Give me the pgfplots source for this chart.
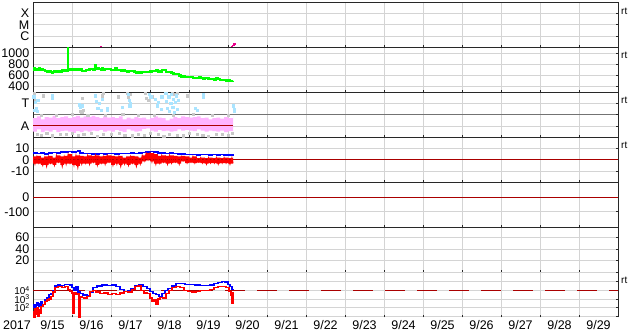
\documentclass[border=0pt]{standalone}
\usepackage{fontspec}
\setmainfont{Liberation Sans}
\usepackage{pgfplots}
\pgfplotsset{compat=1.18}
\usepgfplotslibrary{fillbetween}
\definecolor{dred}{RGB}{170,0,0}
\definecolor{pinkband}{RGB}{255,180,255}
\definecolor{ltblue}{RGB}{170,228,255}
\definecolor{ltgray}{RGB}{200,200,200}
\definecolor{gridc}{RGB}{212,212,212}
\definecolor{bord}{RGB}{40,40,40}
\newcommand{\tenp}[1]{10\raisebox{3.3pt}{\fontsize{7}{7}\selectfont #1}}
\pgfplotsset{
 panel/.style={
  scale only axis, width=585pt, height=45pt, xmin=0, xmax=15,
  anchor=north west,
  axis line style={draw=bord, line width=0.9pt},
  xtick={1,...,14}, xticklabels={},
  xmajorgrids, ymajorgrids,
  grid style={draw=gridc, line width=0.8pt},
  tick align=inside, major tick length=2.5pt,
  tick style={draw=bord, line width=0.8pt},
  xtick pos=left, ytick pos=right, yticklabel pos=left,
  yminorticks=false, xminorticks=false,
  tick label style={font=\fontsize{12.5}{13}\selectfont},
  yticklabel style={anchor=east, inner sep=0pt, xshift=-3.5pt},
 },
}
\begin{document}
\begin{tikzpicture}
% Panel 1: X-ray class
\begin{axis}[panel, at={(33pt,-2.5pt)}, height=44.8pt, ymode=log, ymin=1e-7, ymax=1e-3,
  ytick={1e-6,1e-5,1e-4}, yticklabels={C,M,X}]
\addplot[draw=magenta, line width=1.2pt] coordinates {(1.72,1.12e-7)(1.76,1.12e-7)};
\addplot[draw=magenta, line width=1.5pt, const plot] coordinates {(5.07,1.15e-7)(5.11,1.4e-7)(5.15,1.9e-7)(5.21,1.9e-7)};
\end{axis}
% Panel 2: speed
\begin{axis}[panel, at={(33pt,-47.3pt)}, ymin=300, ymax=1100,
  ytick={400,600,800,1000}, yticklabels={400,600,800,1000}]
\addplot[draw=green, line width=2.2pt, const plot] coordinates {
(0.00,700)(0.03,735)(0.05,710)(0.08,690)(0.10,720)(0.13,700)(0.15,730)(0.18,705)(0.20,715)(0.25,690)(0.28,700)(0.30,680)(0.35,665)(0.38,680)(0.40,670)(0.45,655)
(0.50,650)(0.52,665)(0.55,670)(0.60,660)(0.65,675)(0.70,665)(0.75,690)(0.80,680)(0.85,690)(0.88,680)(0.895,1080)
(0.905,720)(0.95,700)(1.00,705)(1.05,720)(1.08,700)(1.10,710)(1.15,690)(1.20,705)(1.25,685)(1.30,680)(1.35,690)
(1.40,700)(1.45,710)(1.50,720)(1.55,700)(1.58,790)(1.60,720)(1.65,730)(1.70,715)(1.75,705)(1.78,725)(1.80,700)
(1.85,720)(1.90,710)(1.95,715)(2.00,700)(2.05,690)(2.10,730)(2.15,700)(2.20,690)(2.25,680)(2.30,695)
(2.35,680)(2.40,670)(2.45,685)(2.50,675)(2.60,665)(2.65,650)(2.70,660)(2.75,650)(2.80,660)(2.90,655)(3.00,670)(3.05,685)
(3.10,680)(3.15,700)(3.20,670)(3.30,690)(3.40,665)(3.50,660)(3.55,640)(3.60,625)(3.65,620)(3.70,630)
(3.75,600)(3.80,580)(3.90,575)(4.00,565)(4.10,560)(4.20,555)(4.25,570)(4.30,550)(4.35,545)(4.40,555)(4.50,540)
(4.60,530)(4.65,525)(4.70,545)(4.75,532)(4.80,520)(4.90,518)(4.95,510)(5.00,520)(5.05,505)(5.10,495)(5.13,505)};
\end{axis}
% Panel 3: T / A
\begin{axis}[panel, at={(33pt,-92.3pt)}, ymin=0, ymax=4, ytick={1,3}, yticklabels={A,T},
  extra y ticks={2}, extra y tick labels={},
  extra y tick style={major grid style={draw=black!55, line width=0.9pt}}]
\addplot[only marks, mark=square*, mark size=1.1pt, color=ltgray] coordinates {
(0.03,3.7)(0.05,3.3)(0.03,3.9)(0.26,3.7)(1.2,2.3)(1.25,2.2)(1.28,2.4)(1.26,3.5)(1.77,3.7)(1.79,3.9)
(2.18,3.6)(2.41,3.9)(2.45,3.6)(2.5,3.8)(2.87,3.9)(2.9,3.5)(2.95,3.3)(3.05,3.6)(3.56,3.9)(3.62,3.8)
(3.69,3.9)(3.95,3.7)(4.2,2.4)(4.36,3.8)
(0.2,2.0)(0.6,1.95)(1.0,2.05)(1.4,2.0)(1.85,1.95)(2.3,2.05)(2.7,2.0)(3.1,1.95)(3.6,2.0)(4.1,2.05)(4.6,1.95)(5.0,2.0)
(0.1,0.3)(0.2,0.2)(0.35,0.4)(0.5,0.15)(0.7,0.3)(0.85,0.25)(1.0,0.4)(1.15,0.2)(1.3,0.3)(1.5,0.35)
(1.65,0.1)(1.8,0.3)(2.0,0.25)(2.2,0.4)(2.35,0.2)(2.55,0.15)(2.7,0.3)(2.85,0.2)(3.0,0.35)(3.2,0.25)
(3.35,0.1)(3.5,0.3)(3.7,0.2)(3.85,0.15)(4.0,0.35)(4.2,0.3)(4.35,0.2)(4.5,0.1)(4.7,0.25)(4.85,0.3)
(5.0,0.2)(5.1,0.35)};
\addplot[name path=up, draw=none, const plot] coordinates {
(0.0,1.7)(0.1,1.85)(0.2,1.6)(0.3,1.8)(0.4,1.75)(0.5,1.9)(0.6,1.7)(0.7,1.8)(0.8,1.85)(0.9,1.7)
(1.0,1.8)(1.1,1.9)(1.2,1.75)(1.3,1.85)(1.4,1.8)(1.5,1.9)(1.6,1.8)(1.7,1.7)(1.8,1.85)(1.9,1.75)
(2.0,1.8)(2.1,1.7)(2.2,1.85)(2.3,1.6)(2.4,1.75)(2.5,1.65)(2.6,1.8)(2.7,1.7)(2.8,1.75)(2.9,1.6)
(3.0,1.7)(3.1,1.85)(3.2,1.75)(3.3,1.7)(3.4,1.5)(3.5,1.65)(3.6,1.8)(3.7,1.7)(3.8,1.85)(3.9,1.8)
(4.0,1.75)(4.1,1.8)(4.2,1.85)(4.3,1.7)(4.4,1.75)(4.5,1.6)(4.6,1.7)(4.7,1.75)(4.8,1.65)(4.9,1.8)
(5.0,1.7)(5.13,1.9)};
\addplot[name path=lo, draw=none, const plot] coordinates {
(0.0,0.5)(0.1,0.7)(0.2,0.45)(0.3,0.6)(0.4,0.5)(0.5,0.65)(0.6,0.45)(0.7,0.55)(0.8,0.6)(0.9,0.5)
(1.0,0.4)(1.1,0.55)(1.2,0.45)(1.3,0.6)(1.4,0.5)(1.5,0.6)(1.6,0.55)(1.7,0.65)(1.8,0.5)(1.9,0.6)
(2.0,0.5)(2.1,0.65)(2.2,0.55)(2.3,0.45)(2.4,0.7)(2.5,0.6)(2.6,0.5)(2.7,0.55)(2.8,0.75)(2.9,0.8)
(3.0,0.6)(3.1,0.5)(3.2,0.65)(3.3,0.55)(3.4,0.6)(3.5,0.5)(3.6,0.55)(3.7,0.7)(3.8,0.6)(3.9,0.65)
(4.0,0.6)(4.1,0.55)(4.2,0.7)(4.3,0.6)(4.4,0.5)(4.5,0.6)(4.6,0.55)(4.7,0.5)(4.8,0.6)(4.9,0.45)
(5.0,0.55)(5.13,0.5)};
\addplot[fill=pinkband, draw=none] fill between[of=up and lo];
\addplot[only marks, mark=square*, mark size=1.1pt, color=ltblue] coordinates {
(0.02,3.6)(0.05,3.1)(0.08,2.6)(0.1,2.3)(0.12,3.3)(0.04,2.4)(0.49,3.7)(0.5,3.5)(1.18,2.9)(1.22,2.7)
(1.27,2.8)(1.6,3.7)(1.63,3.2)(1.66,2.6)(1.7,3.0)(1.75,2.4)(1.77,3.4)(1.9,2.6)(1.9,2.4)(2.28,2.7)
(2.44,3.8)(2.46,3.3)(2.48,2.8)(2.49,3.0)(2.97,3.8)(3.02,3.6)(3.13,3.4)(3.18,2.8)(3.22,3.1)(3.28,2.5)
(3.3,3.6)(3.4,3.9)(3.42,3.2)(3.45,2.6)(3.48,3.6)(3.5,2.3)(3.53,3.0)(3.55,3.8)(3.58,2.7)(3.6,3.4)
(3.63,2.2)(3.65,3.1)(3.68,3.7)(3.7,2.5)(3.72,3.3)(4.16,2.6)(4.2,2.4)(4.36,3.8)(4.37,3.6)(5.13,2.8)
(5.15,2.5)(5.15,2.3)};
\addplot[draw=dred, line width=1pt] coordinates {(0,1.07)(5.13,1.07)};
\end{axis}
% Panel 4: magnetic field
\begin{axis}[panel, at={(33pt,-137.3pt)}, ymin=-20, ymax=20, ytick={-10,0,10}, yticklabels={-10,0,10}]
\addplot[draw=dred, line width=1pt] coordinates {(0,0)(15,0)};
\addplot[draw=blue, line width=1.4pt, const plot] coordinates {
(0,6)(0.1,5.5)(0.2,6)(0.3,5.3)(0.4,6)(0.5,6.5)(0.6,6.2)(0.7,7)(0.8,6.8)(0.9,7.2)(1.0,7)(1.1,7.5)(1.15,8.3)
(1.2,6.2)(1.3,5.8)(1.4,5.5)(1.5,5.2)(1.6,5)(1.7,5.5)(1.8,5.3)(1.9,5.6)(2.0,5.5)(2.1,5.2)(2.2,5.6)(2.3,5.5)
(2.4,5.8)(2.5,6)(2.6,5.7)(2.7,6)(2.8,6.3)(2.9,7)(3.0,7.2)(3.1,6.8)(3.2,6)(3.3,6.2)(3.4,5.8)(3.5,6)(3.6,5.5)
(3.7,5.2)(3.8,5)(3.9,4.6)(4.0,4.5)(4.1,4.7)(4.2,4.4)(4.3,4.6)(4.4,4.5)(4.5,4.3)(4.6,4.5)(4.7,4.4)(4.8,4.6)
(4.9,4.3)(5.0,4.2)(5.1,4.4)(5.13,4)};
\addplot[name path=bzhi, draw=none, const plot] coordinates {
(0.0,3)(0.1,3.5)(0.2,2)(0.3,3)(0.4,3.5)(0.5,2)(0.6,4)(0.7,3)(0.8,3.5)(0.9,5)
(1.0,3)(1.1,4)(1.2,3.5)(1.3,3)(1.4,4)(1.5,3.5)(1.6,4)(1.7,3)(1.8,3.5)(1.9,4)
(2.0,3.5)(2.1,3)(2.2,3.5)(2.3,2)(2.4,3)(2.5,3.5)(2.6,3)(2.7,2)(2.8,4)(2.9,6)
(3.0,6)(3.1,5)(3.2,3.5)(3.3,4)(3.4,3.5)(3.5,4)(3.6,3.5)(3.7,3)(3.8,3.5)(3.9,3)
(4.0,2)(4.1,3)(4.2,1.5)(4.3,2)(4.4,1.5)(4.5,2)(4.6,1.5)(4.7,2)(4.8,1.5)(4.9,2)(5.0,1.5)(5.13,2)};
\addplot[name path=bzlo, draw=none, const plot] coordinates {
(0.0,-3.5)(0.1,-3.5)(0.2,-4.5)(0.3,-4.5)(0.4,-3.5)(0.5,-4.5)(0.6,-2.5)(0.7,-4.5)(0.8,-3.5)(0.9,-3.5)
(1.0,-4.5)(1.1,-5.5)(1.2,-3.5)(1.3,-3.5)(1.4,-3.5)(1.5,-2.5)(1.6,-4.5)(1.7,-3.5)(1.8,-3.5)(1.9,-2.5)
(2.0,-4.5)(2.1,-3.5)(2.2,-4.5)(2.3,-3.5)(2.4,-4.5)(2.5,-3.5)(2.6,-4.5)(2.7,-3.5)(2.8,-1.5)(2.9,-0.5)
(3.0,-1.5)(3.1,-3.5)(3.2,-3.5)(3.3,-2.5)(3.4,-3.5)(3.5,-3)(3.6,-2.5)(3.7,-3.5)(3.8,-1.5)(3.9,-3)
(4.0,-2.5)(4.1,-3)(4.2,-2.5)(4.3,-3)(4.4,-3.5)(4.5,-3)(4.6,-3)(4.7,-3.5)(4.8,-3)(4.9,-3)(5.0,-3.5)(5.13,-3)};
\addplot[fill=red, draw=none] fill between[of=bzhi and bzlo];
\addplot[draw=red, line width=0.9pt] coordinates {
(0.00,2)(0.05,-4)(0.10,3)(0.15,-3)(0.20,1)(0.25,-5)(0.30,2)(0.35,-6)(0.40,3)(0.45,-3)
(0.50,1)(0.55,-5)(0.60,4)(0.65,-2)(0.70,2)(0.75,-6)(0.80,3)(0.85,-4)(0.90,5)(0.95,-3)
(1.00,2)(1.05,-5)(1.10,4)(1.15,-7)(1.20,3)(1.25,-4)(1.30,2)(1.35,-3)(1.40,4)(1.45,-4)
(1.50,3)(1.55,-2)(1.60,4)(1.65,-5)(1.70,2)(1.75,-3)(1.80,3)(1.85,-4)(1.90,4)(1.95,-2)
(2.00,3)(2.05,-5)(2.10,2)(2.15,-4)(2.20,3)(2.25,-6)(2.30,1)(2.35,-4)(2.40,2)(2.45,-5)
(2.50,3)(2.55,-3)(2.60,2)(2.65,-6)(2.70,1)(2.75,-4)(2.80,4)(2.85,-1)(2.90,6)(2.95,0)
(3.00,6)(3.05,-2)(3.10,5)(3.15,-4)(3.20,3)(3.25,-3)(3.30,4)(3.35,-2)(3.40,3)(3.45,-4)
(3.50,4)(3.55,-3)(3.60,3)(3.65,-2)(3.70,2)(3.75,-4)(3.80,3)(3.85,-1)(3.90,2)(3.95,-3)
(4.00,2)(4.05,-2)(4.10,3)(4.15,-3)(4.20,1)(4.25,-2)(4.30,2)(4.35,-3)(4.40,1)(4.45,-4)
(4.50,2)(4.55,-3)(4.60,1)(4.65,-3)(4.70,2)(4.75,-4)(4.80,1)(4.85,-3)(4.90,2)(4.95,-3)
(5.00,1)(5.05,-4)(5.10,2)(5.13,-3)};
\end{axis}
% Panel 5
\begin{axis}[panel, at={(33pt,-182.3pt)}, ymin=-208, ymax=107, ytick={-100,0}, yticklabels={-100,0}]
\addplot[draw=dred, line width=1pt] coordinates {(0,0)(15,0)};
\end{axis}
% Panel 6
\begin{axis}[panel, at={(33pt,-227.3pt)}, ymin=-1, ymax=78, ytick={20,40,60}, yticklabels={20,40,60}]
\end{axis}
% Panel 7: electron flux
\begin{axis}[panel, at={(33pt,-272.3pt)}, ymode=log, ymin=7.9, ymax=1.17e6,
  separate axis lines, x axis line style={draw=none},
  ytick={10,100,1000,10000,100000,1000000},
  yticklabels={,\tenp{2},\tenp{3},\tenp{4},,},
  yticklabel style={font=\fontsize{10}{10}\selectfont},
  extra x ticks={0.5,1.5,...,14.5},
  extra x tick labels={9/15,9/16,9/17,9/18,9/19,9/20,9/21,9/22,9/23,9/24,9/25,9/26,9/27,9/28,9/29},
  extra x tick style={grid=none, major tick length=0pt, xticklabel style={inner sep=0pt, anchor=north, yshift=-3pt, font=\fontsize{12.5}{13}\selectfont}}]
\addplot[draw=dred, line width=1pt, dash pattern=on 20pt off 12pt] coordinates {(0,10000)(15,10000)};
\addplot[draw=dred, line width=1pt] coordinates {(0,10000)(1.33,10000)};
\addplot[draw=dred, line width=1pt] coordinates {(3.28,10000)(4.58,10000)};
\addplot[draw=blue, line width=1.3pt, const plot] coordinates {
(0.000,200)(0.026,120)(0.051,100)(0.077,250)(0.103,398)(0.128,180)(0.154,158)(0.179,300)(0.205,501)(0.230,200)(0.256,251)(0.308,794)(0.359,1259)(0.410,3162)
(0.462,3981)(0.513,10000)(0.564,31623)(0.641,39811)(0.700,33000)(0.744,35481)(0.800,45000)(0.846,50119)(0.949,39811)(1.000,19953)
(1.051,10000)(1.103,25119)(1.154,6310)(1.205,3981)(1.282,2818)(1.385,2512)(1.462,6310)(1.538,19953)
(1.641,31623)(1.769,39811)(1.897,35481)(2.026,39811)(2.128,25119)(2.231,12589)(2.333,7943)(2.436,8913)
(2.513,15849)(2.615,31623)(2.718,39811)(2.821,25119)(2.923,15849)(3.000,7943)(3.077,3981)(3.154,3162)
(3.231,1995)(3.308,3981)(3.385,10000)(3.462,15849)(3.564,31623)(3.667,56234)(3.769,63096)(3.897,50119)
(4.026,44668)(4.154,39811)(4.282,35481)(4.410,35481)(4.538,39811)(4.641,56234)(4.744,79433)(4.846,100000)
(4.923,89125)(5.000,50119)(5.051,25119)(5.103,12589)(5.128,10000)};
\addplot[draw=red, line width=1.3pt, const plot] coordinates {
(0.000,32)(0.026,6.3)(0.051,79)(0.077,16)(0.103,100)(0.128,10)(0.154,63)(0.179,20)(0.205,126)(0.256,251)
(0.308,501)(0.359,794)(0.410,1000)(0.462,1995)(0.513,6310)(0.564,19953)(0.641,25119)(0.744,19953)
(0.821,25119)(0.897,12589)(0.949,7943)(1.000,3981)(1.026,25)(1.051,5012)(1.103,3162)(1.154,3981)
(1.179,5)(1.205,1995)(1.256,1585)(1.308,1259)(1.385,1995)(1.462,7943)(1.538,10000)(1.615,6310)
(1.718,3981)(1.821,5012)(1.923,3162)(2.026,3981)(2.128,3162)(2.231,5012)(2.333,7943)(2.436,6310)
(2.538,12589)(2.615,25119)(2.692,31623)(2.769,10000)(2.846,5012)(2.923,3981)(3.000,1259)(3.051,501)
(3.103,794)(3.154,251)(3.205,1000)(3.256,1585)(3.333,1259)(3.410,3981)(3.487,10000)(3.564,19953)
(3.667,25119)(3.769,19953)(3.872,10000)(3.974,7943)(4.077,6310)(4.179,7943)(4.282,10000)(4.410,10000)
(4.538,12589)(4.641,19953)(4.744,25119)(4.846,25119)(4.949,19953)(5.026,7943)(5.077,2512)(5.103,316)
(5.128,6310)};
\end{axis}
\node[anchor=north, inner sep=0pt, font=\fontsize{12.5}{13}\selectfont] at (17pt,-320.3pt) {2017};
\foreach \yy in {11,55.8,100.8,145.8,280.8}
  \node[anchor=west, inner sep=0pt, font=\fontsize{10}{11}\selectfont] at (621pt,-\yy pt) {rt};
\pgfresetboundingbox
\path[use as bounding box] (0pt,0pt) rectangle (634pt,-334pt);
\end{tikzpicture}
\end{document}
